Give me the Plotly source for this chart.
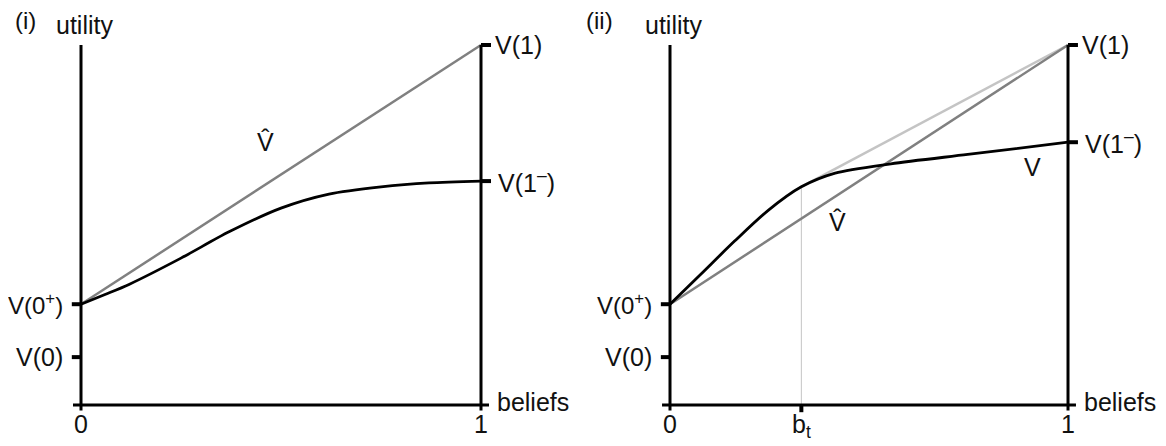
import plotly.graph_objects as go

# values (utility on an arbitrary 0-10 scale, beliefs 0-1)
v0 = 1.33
v0_plus = 2.8
v1 = 10.0
v1_minus_i = 6.22
v1_minus_ii = 7.3
b_t = 0.33
v_bt = 6.06

belief_i = [0, 0.06, 0.12, 0.25, 0.37, 0.50, 0.62, 0.75, 0.87, 1.0]
v_i = [2.8, 3.07, 3.35, 4.08, 4.81, 5.47, 5.86, 6.06, 6.17, 6.22]

belief_ii = [0, 0.078, 0.163, 0.246, 0.33, 0.415, 0.555, 0.748, 1.0]
v_ii = [2.8, 3.64, 4.56, 5.40, 6.06, 6.44, 6.70, 6.96, 7.3]

FONT = "Arial, Liberation Sans, sans-serif"
BLACK = "#000000"
GREY = "#808080"
LIGHT = "#c4c4c4"

fig = go.Figure()


def seg(x, y, xa, ya, color=BLACK, width=3):
    fig.add_trace(go.Scatter(x=x, y=y, mode="lines", xaxis=xa, yaxis=ya,
                             line=dict(color=color, width=width),
                             hoverinfo="skip", showlegend=False))


def text(t, x, y, xr, yr, xanchor="center", yanchor="middle", xshift=0, yshift=0, size=25):
    fig.add_annotation(text=t, x=x, y=y, xref=xr, yref=yr, showarrow=False,
                       xanchor=xanchor, yanchor=yanchor, xshift=xshift, yshift=yshift,
                       font=dict(family=FONT, size=size, color="#111111"))


panels = [
    ("x", "y", "(i)", -56, v1_minus_i, belief_i, v_i),
    ("x2", "y2", "(ii)", -71, v1_minus_ii, belief_ii, v_ii),
]

for xa, ya, tag, tag_dx, v1m, bx, vy in panels:
    # extra lines for panel (ii) drawn first
    if tag == "(ii)":
        seg([b_t, b_t], [0, v_bt], xa, ya, color=LIGHT, width=1)
        seg([b_t, 1], [v_bt, v1], xa, ya, color=LIGHT, width=2.5)
    # V-hat: chord from V(0+) to V(1)
    seg([0, 1], [v0_plus, v1], xa, ya, color=GREY, width=2.5)
    # V curve
    fig.add_trace(go.Scatter(x=bx, y=vy, mode="lines", xaxis=xa, yaxis=ya,
                             line=dict(color=BLACK, width=2.8, shape="spline", smoothing=0.8),
                             hoverinfo="skip", showlegend=False))
    # axes
    seg([-0.02, 1.02], [0, 0], xa, ya)
    seg([0, 0], [-0.15, v1], xa, ya)
    seg([1, 1], [-0.15, v1], xa, ya)
    # ticks
    for yv in (v0_plus, v0):
        seg([-0.023, 0], [yv, yv], xa, ya, width=4)
    for yv in (v1, v1m):
        seg([1, 1.025], [yv, yv], xa, ya, width=4)

    # labels
    text("V(0<sup>+</sup>)", 0, v0_plus, xa, ya, xanchor="right", xshift=-16, size=24)
    text("V(0)", 0, v0, xa, ya, xanchor="right", xshift=-16)
    text("V(1)", 1, v1, xa, ya, xanchor="left", xshift=12)
    text("V(1<sup>–</sup>)", 1, v1m, xa, ya, xanchor="left", xshift=15)
    text("0", 0, 0, xa, ya, yanchor="top", yshift=-3)
    text("1", 1, 0, xa, ya, yanchor="top", yshift=-3)
    text("beliefs", 1, 0, xa, ya, xanchor="left", xshift=14, yshift=3)
    text("utility", 0, v1, xa, ya, yanchor="bottom", xshift=3, yshift=4)
    text(tag, 0, v1, xa, ya, xshift=tag_dx, yshift=25, size=24)

# panel-specific labels
text("V\u0302", 0.46, 7.3, "x", "y")
text("V\u0302", 0.422, 5.08, "x2", "y2")
text("V", 0.912, 6.61, "x2", "y2")
seg([b_t, b_t], [0, -0.2], "x2", "y2", width=4)
text("b<sub>t</sub>", b_t, 0, "x2", "y2", yanchor="top", yshift=-3)

hidden = dict(visible=False, showgrid=False, zeroline=False, fixedrange=True)
# ranges compensate for the page's 8px body margin so the axes land where the reference has them
fig.update_layout(
    width=1166,
    height=446,
    margin=dict(l=0, r=0, t=0, b=0),
    plot_bgcolor="white",
    paper_bgcolor="white",
    showlegend=False,
    xaxis=dict(domain=[0, 0.5], range=[-0.1825, 1.275], **hidden),
    xaxis2=dict(domain=[0.5, 1], range=[-0.1985, 1.2663], **hidden),
    yaxis=dict(domain=[0, 1], range=[-1.361, 11.028], anchor="x", **hidden),
    yaxis2=dict(domain=[0, 1], range=[-1.361, 11.028], anchor="x2", **hidden),
)

fig.write_html("out.html")
